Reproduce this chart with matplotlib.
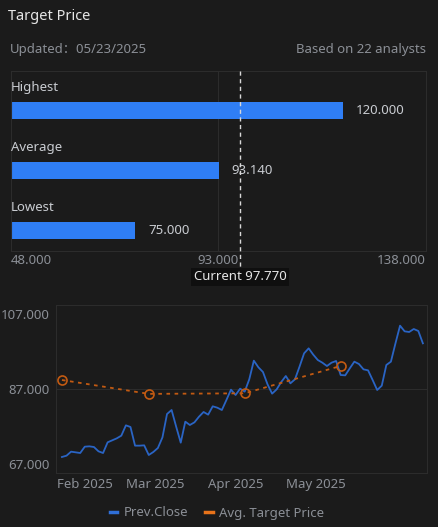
import numpy as np
import matplotlib
matplotlib.use("Agg")
import matplotlib.pyplot as plt
from matplotlib.lines import Line2D

plt.rcParams["font.family"] = ["Noto Sans", "Noto Sans CJK SC", "DejaVu Sans"]

# Target price data
categories = ["Highest", "Average", "Lowest"]
target_vals = [120.0, 93.14, 75.0]
current_price = 97.77
n_analysts = 22
updated = "05/23/2025"
bar_ticks = [48.0, 93.0, 138.0]

# Prev. close history (trading-day index)
close = [
    68.87, 69.22, 70.29, 70.11, 69.93, 71.62, 71.71, 71.53, 70.38, 69.93,
    72.78, 73.31, 73.84, 74.56, 77.31, 76.87, 71.89, 71.89, 71.98, 69.40,
    70.20, 71.27, 74.11, 80.33, 81.40, 76.96, 72.69, 78.29, 77.40, 78.11,
    79.62, 80.87, 80.16, 82.38, 82.02, 81.40, 84.07, 86.82, 85.40, 87.09,
    86.29, 89.58, 94.56, 92.78, 91.53, 88.24, 85.76, 86.91, 88.87, 90.47,
    88.51, 89.58, 92.96, 96.51, 97.84, 96.16, 94.73, 94.02, 93.13, 94.02,
    94.47, 90.73, 90.64, 92.51, 94.29, 93.67, 92.24, 91.98, 89.40, 86.73,
    87.89, 93.40, 94.29, 99.18, 103.89, 102.38, 102.20, 103.00, 102.47, 99.18,
]
avg_idx = [0, 19, 40, 61]
avg_target = [89.4, 85.7, 85.85, 93.14]
month_idx = [5, 20.5, 38, 55.5]
month_labels = ["Feb 2025", "Mar 2025", "Apr 2025", "May 2025"]
line_yticks = [67.0, 87.0, 107.0]

bg = "#1b1b1b"
edge = "#2c2c2c"
txt = "#c9ccd1"
dim = "#8b8f96"
blue_bar = "#2f7ef5"
blue_line = "#2a64c4"
orange = "#c25a12"
orange_leg = "#e8731a"

W, H = 438, 527
fig = plt.figure(figsize=(W / 100, H / 100), dpi=100, facecolor=bg)

def fx(px):
    return px / W

def fy(py):
    return 1 - py / H

fig.text(fx(8), fy(16), "Target Price", color="#e6e6e6", fontsize=10.5,
         ha="left", va="center")
fig.text(fx(10), fy(50), f"Updated\uff1a{updated}", color=dim, fontsize=9.5,
         ha="left", va="center")
fig.text(fx(426), fy(50), f"Based on {n_analysts} analysts", color=dim,
         fontsize=9.5, ha="right", va="center")

# ---- bar panel ----
ax = fig.add_axes([fx(10.7), fy(251), fx(415), 180 / H])
ax.set_facecolor(bg)
ypos = np.arange(len(categories))
ax.barh(ypos, [v - bar_ticks[0] for v in target_vals], left=bar_ticks[0],
        height=0.283, color=blue_bar, zorder=2)
ax.set_xlim(bar_ticks[0], bar_ticks[-1])
ax.set_ylim(2.342, -0.658)
for i, (c, v) in enumerate(zip(categories, target_vals)):
    ax.text(bar_ticks[0], i - 0.375, c, color=txt, fontsize=9.5,
            ha="left", va="center")
    ax.text(v + 2.8, i, f"{v:.3f}", color=txt, fontsize=9.5,
            ha="left", va="center")
ax.set_yticks([])
ax.set_xticks(bar_ticks)
ax.set_xticklabels([f"{t:.3f}" for t in bar_ticks])
ax.tick_params(axis="x", length=0, pad=2.5, colors=dim, labelsize=9.5)
lbls = ax.get_xticklabels()
lbls[0].set_ha("left")
lbls[-1].set_ha("right")
ax.axvline(bar_ticks[1], color=edge, lw=0.8, zorder=1)
for s in ax.spines.values():
    s.set_color(edge)
    s.set_linewidth(0.8)
ax.plot([current_price, current_price], [1.0, -0.094], color="#d8d8d8",
        lw=1.0, ls=(0, (3, 2.5)), transform=ax.get_xaxis_transform(),
        clip_on=False, zorder=5)
ax.text(current_price, -0.144, f"Current {current_price:.3f}",
        transform=ax.get_xaxis_transform(), color="#e6e6e6", fontsize=9.5,
        ha="center", va="center", zorder=6,
        bbox=dict(boxstyle="square,pad=0.2", fc="#0f0f0f", ec="none"))

# ---- line panel ----
ax2 = fig.add_axes([fx(56), fy(472.7), fx(371), 168 / H])
ax2.set_facecolor(bg)
x = np.arange(len(close))
ax2.plot(x, close, color=blue_line, lw=1.3, zorder=3)
ax2.plot(avg_idx, avg_target, color=orange, lw=1.3, ls=(0, (2, 2.5)),
         marker="o", ms=6.5, mfc="none", mec=orange, mew=1.2, zorder=4)
ax2.set_xlim(-1.3, 79.9)
ax2.set_ylim(64.68, 109.48)
ax2.set_yticks(line_yticks)
ax2.set_yticklabels([f"{t:.3f}" for t in line_yticks])
ax2.set_xticks(month_idx)
ax2.set_xticklabels(month_labels)
ax2.tick_params(axis="y", length=0, pad=4.5, colors=dim, labelsize=9.5)
ax2.tick_params(axis="x", length=0, pad=3.5, colors=dim, labelsize=9.5)
ax2.axhline(87.0, color=edge, lw=0.8, zorder=1)
for s in ax2.spines.values():
    s.set_color(edge)
    s.set_linewidth(0.8)

handles = [
    Line2D([], [], color="#2f6fd8", lw=2.5),
    Line2D([], [], color=orange_leg, lw=2.5),
]
fig.legend(handles, ["Prev.Close", "Avg. Target Price"], loc="center",
           bbox_to_anchor=(fx(217), fy(513)), ncol=2, frameon=False,
           handlelength=0.55, handletextpad=0.5, columnspacing=1.3,
           fontsize=9.5, labelcolor=dim)

fig.savefig("out.png", dpi=100, facecolor=bg)
plt.close(fig)
